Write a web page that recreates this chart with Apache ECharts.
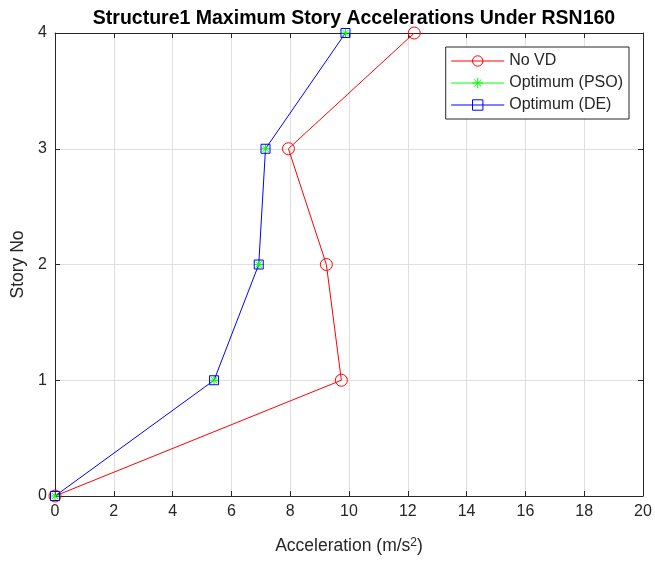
<!DOCTYPE html>
<html>
<head>
<meta charset="utf-8">
<script src="https://cdn.jsdelivr.net/npm/echarts@6/dist/echarts.min.js"></script>
<style>
html, body { margin: 0; padding: 0; background: #fff; }
#chart { width: 655px; height: 561px; }
</style>
</head>
<body>
<div id="chart"></div>
<script>
// 数据
var stories = [0, 1, 2, 3, 4];
var noVD = [0, 9.74, 9.23, 7.94, 12.22];
var optPSO = [0, 5.41, 6.93, 7.16, 9.88];
var optDE = [0, 5.41, 6.93, 7.16, 9.88];
var xTicks = [0, 20, 2];   // min, max, interval
var yTicks = [0, 4, 1];

function pairs(vals) {
	return vals.map(function (v, i) { return [v, stories[i]]; });
}

var font = 'Liberation Sans, Arial, Helvetica, sans-serif';
var axisColor = '#262626';
var star = 'path://M5,0L5,10M0,5L10,5M1.5,1.5L8.5,8.5M1.5,8.5L8.5,1.5';

var myChart = echarts.init(document.getElementById('chart'));
var option = {
	backgroundColor: '#fff',
	animation: false,
	textStyle: { fontFamily: font },
	title: {
		text: 'Structure1 Maximum Story Accelerations Under RSN160',
		left: 349,
		textAlign: 'center',
		top: 4,
		textStyle: { fontSize: 19.5, fontWeight: 'bold', color: '#000', fontFamily: font }
	},
	grid: {
		left: 55,
		right: 12,
		top: 33,
		bottom: 65
	},
	legend: {
		orient: 'vertical',
		right: 26,
		top: 47,
		itemWidth: 53,
		itemHeight: 13,
		itemGap: 6,
		padding: [6, 6, 6, 5],
		borderColor: axisColor,
		borderWidth: 1,
		backgroundColor: '#fff',
		lineStyle: { width: 1 },
		itemStyle: { borderWidth: 1 },
		textStyle: { fontSize: 16, color: axisColor, fontFamily: font },
		data: [
			'No VD',
			{ name: 'Optimum (PSO)', lineStyle: { opacity: 1, width: 1, color: '#00ff00' } },
			'Optimum (DE)'
		]
	},
	xAxis: [{
		type: 'value',
		min: xTicks[0],
		max: xTicks[1],
		interval: xTicks[2],
		name: 'Acceleration (m/s{sup|2})',
		nameLocation: 'middle',
		nameGap: 41,
		nameTextStyle: {
			fontSize: 17.5, color: axisColor, fontFamily: font,
			rich: { sup: { fontSize: 12, verticalAlign: 'top', color: axisColor, fontFamily: font } }
		},
		axisLine: { show: true, lineStyle: { color: axisColor, width: 1 } },
		axisTick: { show: true, inside: true, length: 5, lineStyle: { color: axisColor } },
		axisLabel: { fontSize: 16, color: axisColor, margin: 8 },
		splitLine: { show: true, lineStyle: { color: '#dfdfdf', width: 1 } }
	}, {
		type: 'value',
		position: 'top',
		min: xTicks[0],
		max: xTicks[1],
		interval: xTicks[2],
		axisLine: { show: true, onZero: false, lineStyle: { color: axisColor, width: 1 } },
		axisTick: { show: true, inside: true, length: 5, lineStyle: { color: axisColor } },
		axisLabel: { show: false },
		splitLine: { show: false }
	}],
	yAxis: [{
		type: 'value',
		min: yTicks[0],
		max: yTicks[1],
		interval: yTicks[2],
		name: 'Story No',
		nameLocation: 'middle',
		nameGap: 25,
		nameTextStyle: { fontSize: 17.5, color: axisColor, fontFamily: font },
		axisLine: { show: true, lineStyle: { color: axisColor, width: 1 } },
		axisTick: { show: true, inside: true, length: 5, lineStyle: { color: axisColor } },
		axisLabel: { fontSize: 16, color: axisColor, margin: 8 },
		splitLine: { show: true, lineStyle: { color: '#dfdfdf', width: 1 } }
	}, {
		type: 'value',
		position: 'right',
		min: yTicks[0],
		max: yTicks[1],
		interval: yTicks[2],
		axisLine: { show: true, onZero: false, lineStyle: { color: axisColor, width: 1 } },
		axisTick: { show: true, inside: true, length: 5, lineStyle: { color: axisColor } },
		axisLabel: { show: false },
		splitLine: { show: false }
	}],
	series: [{
		name: 'No VD',
		type: 'line',
		data: pairs(noVD),
		symbol: 'circle',
		symbolSize: 12,
		lineStyle: { color: '#ff0000', width: 1 },
		itemStyle: { color: 'rgba(0,0,0,0)', borderColor: '#ff0000', borderWidth: 1 }
	}, {
		name: 'Optimum (PSO)',
		type: 'line',
		data: pairs(optPSO),
		symbol: star,
		symbolSize: 9,
		// hidden under the DE line, as in the original
		lineStyle: { color: '#00ff00', width: 1, opacity: 0 },
		itemStyle: { color: 'rgba(0,0,0,0)', borderColor: '#00ff00', borderWidth: 1 }
	}, {
		name: 'Optimum (DE)',
		type: 'line',
		data: pairs(optDE),
		symbol: 'rect',
		symbolSize: 9,
		lineStyle: { color: '#0000ff', width: 1 },
		itemStyle: { color: 'rgba(0,0,0,0)', borderColor: '#0000ff', borderWidth: 1 }
	}]
};
myChart.setOption(option);
</script>
</body>
</html>
